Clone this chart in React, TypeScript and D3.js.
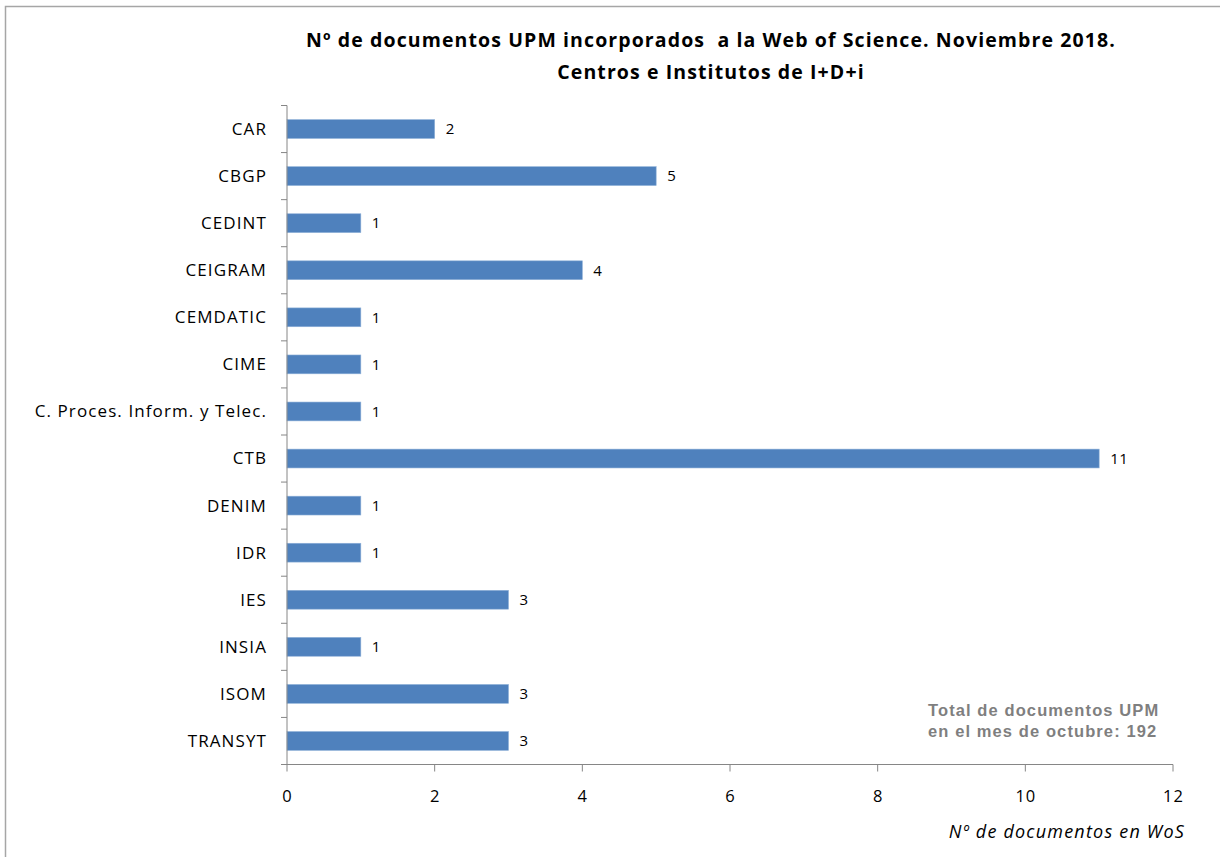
import * as d3 from "d3";
import React, { useEffect, useRef } from "react";

const categories = [
  "CAR",
  "CBGP",
  "CEDINT",
  "CEIGRAM",
  "CEMDATIC",
  "CIME",
  "C. Proces. Inform. y Telec.",
  "CTB",
  "DENIM",
  "IDR",
  "IES",
  "INSIA",
  "ISOM",
  "TRANSYT",
];
const docs = [2, 5, 1, 4, 1, 1, 1, 11, 1, 1, 3, 1, 3, 3];
const xTicks = [0, 2, 4, 6, 8, 10, 12];
const titleLines = [
  "Nº de documentos UPM incorporados  a la Web of Science. Noviembre 2018.",
  "Centros e Institutos de I+D+i",
];
const noteLines = ["Total de documentos UPM", "en el mes de octubre: 192"];

const W = 1220;
const H = 857;
const FONT = "'Open Sans', Lato, sans-serif";

export default function App() {
  const ref = useRef<SVGSVGElement>(null);

  useEffect(() => {
    document.body.style.margin = "0";
    const svg = d3.select(ref.current);
    svg.selectAll("*").remove();

    const left = 287;
    const right = 1173;
    const top = 105.5;
    const bottom = 764.5;

    const x = d3.scaleLinear().domain([0, 12]).range([left, right]);
    const y = d3
      .scaleBand()
      .domain(categories)
      .range([top, bottom])
      .paddingInner(0.6)
      .paddingOuter(0.3);

    // outer frame
    svg
      .append("rect")
      .attr("x", 5.5)
      .attr("y", 6.5)
      .attr("width", 1240)
      .attr("height", 900)
      .attr("fill", "white")
      .attr("stroke", "#a6a6a6")
      .attr("stroke-width", 1.5);

    // title
    svg
      .append("g")
      .selectAll("text")
      .data(titleLines)
      .join("text")
      .attr("x", 711)
      .attr("y", (d, i) => 47 + i * 32)
      .attr("text-anchor", "middle")
      .attr("font-family", FONT)
      .attr("font-weight", "bold")
      .attr("font-size", 19.5)
      .attr("letter-spacing", 1.1)
      .attr("fill", "#000")
      .style("white-space", "pre")
      .text((d) => d);

    // bars
    svg
      .append("g")
      .selectAll("rect")
      .data(docs)
      .join("rect")
      .attr("x", x(0))
      .attr("y", (d, i) => y(categories[i])!)
      .attr("width", (d) => x(d) - x(0))
      .attr("height", y.bandwidth())
      .attr("fill", "#4f81bd")
      .attr("stroke", "#8eb0d8")
      .attr("stroke-width", 0.6);

    // value labels
    svg
      .append("g")
      .selectAll("text")
      .data(docs)
      .join("text")
      .attr("x", (d) => x(d) + 11)
      .attr("y", (d, i) => y(categories[i])! + y.bandwidth() / 2)
      .attr("dy", "0.35em")
      .attr("font-family", FONT)
      .attr("font-size", 15)
      .attr("letter-spacing", 0.6)
      .attr("fill", "#000")
      .text((d) => d);

    const axisColor = "#868686";

    // y axis
    const yAxis = svg.append("g");
    yAxis
      .append("line")
      .attr("x1", left)
      .attr("x2", left)
      .attr("y1", top)
      .attr("y2", bottom)
      .attr("stroke", axisColor);
    const step = (bottom - top) / categories.length;
    yAxis
      .selectAll("line.tick")
      .data(d3.range(categories.length + 1))
      .join("line")
      .attr("class", "tick")
      .attr("x1", left - 6)
      .attr("x2", left)
      .attr("y1", (d) => top + d * step)
      .attr("y2", (d) => top + d * step)
      .attr("stroke", axisColor);
    yAxis
      .selectAll("text")
      .data(categories)
      .join("text")
      .attr("x", left - 20)
      .attr("y", (d) => y(d)! + y.bandwidth() / 2)
      .attr("dy", "0.35em")
      .attr("text-anchor", "end")
      .attr("font-family", FONT)
      .attr("font-size", 17)
      .attr("letter-spacing", 1.1)
      .attr("fill", "#000")
      .text((d) => d);

    // x axis
    const xAxis = svg.append("g");
    xAxis
      .append("line")
      .attr("x1", left - 6)
      .attr("x2", right)
      .attr("y1", bottom)
      .attr("y2", bottom)
      .attr("stroke", axisColor);
    xAxis
      .selectAll("line.tick")
      .data(xTicks)
      .join("line")
      .attr("class", "tick")
      .attr("x1", (d) => x(d))
      .attr("x2", (d) => x(d))
      .attr("y1", bottom)
      .attr("y2", bottom + 7)
      .attr("stroke", axisColor);
    xAxis
      .selectAll("text")
      .data(xTicks)
      .join("text")
      .attr("x", (d) => x(d) + 0.5)
      .attr("y", 796)
      .attr("dy", "0.35em")
      .attr("text-anchor", "middle")
      .attr("font-family", FONT)
      .attr("font-size", 16.5)
      .attr("letter-spacing", 1)
      .attr("fill", "#000")
      .text((d) => d);

    // x axis title
    svg
      .append("text")
      .attr("x", 1185)
      .attr("y", 832)
      .attr("dy", "0.35em")
      .attr("text-anchor", "end")
      .attr("font-family", FONT)
      .attr("font-style", "italic")
      .attr("font-size", 18)
      .attr("letter-spacing", 1.2)
      .attr("fill", "#000")
      .text("Nº de documentos en WoS");

    // note
    svg
      .append("g")
      .selectAll("text")
      .data(noteLines)
      .join("text")
      .attr("x", 928)
      .attr("y", (d, i) => 710 + i * 21)
      .attr("dy", "0.35em")
      .attr("font-family", "'Liberation Sans', Arial, sans-serif")
      .attr("font-weight", "bold")
      .attr("font-size", 16.5)
      .attr("letter-spacing", 1.1)
      .attr("fill", "#7f7f7f")
      .text((d) => d);
  }, []);

  return <svg ref={ref} width={W} height={H} style={{ display: "block" }} />;
}
